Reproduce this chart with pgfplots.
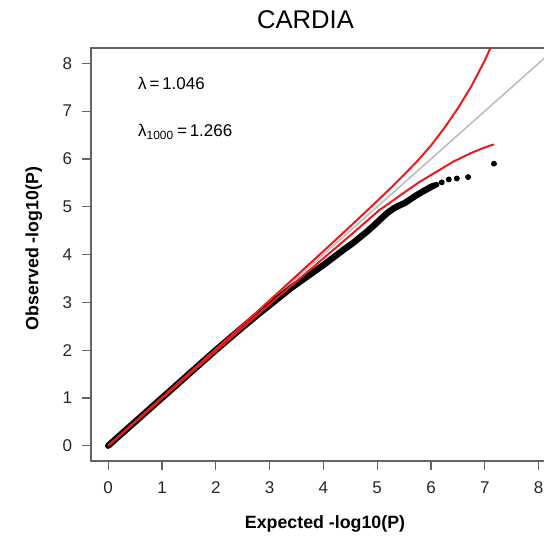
\documentclass[border=0pt]{standalone}
\usepackage{pgfplots}
\pgfplotsset{compat=1.18}
\usepackage{fontspec}
\setmainfont{Liberation Sans}
\definecolor{bandred}{RGB}{232,28,28}
\definecolor{diaggray}{RGB}{190,190,190}
\definecolor{framegray}{RGB}{100,100,100}

\pgfplotstableread{
x y
0 0
0.5 0.5
1 1
1.5 1.5
2 2
2.5 2.48
2.8 2.76
3.0 2.94
3.2 3.12
3.4 3.30
3.6 3.46
3.8 3.62
4.0 3.78
4.2 3.95
4.4 4.12
4.55 4.24
4.7 4.38
4.8 4.47
4.95 4.62
5.1 4.78
5.2 4.88
5.3 4.96
5.4 5.02
5.5 5.07
5.61 5.15
5.73 5.24
5.85 5.32
5.98 5.40
6.05 5.44
}\obsdense

\pgfplotstableread{
x y
5.98 5.41
6.10 5.46
6.20 5.51
6.33 5.57
6.48 5.59
6.69 5.62
7.17 5.90
}\obstail

\pgfplotstableread{
x y
0 0
1 1.01
2 2.02
3 3.04
4 4.07
4.5 4.59
5 5.12
5.25 5.39
5.5 5.67
5.75 5.96
6 6.28
6.25 6.65
6.5 7.06
6.75 7.52
7.0 8.06
7.17 8.49
}\bandhi

\pgfplotstableread{
x y
0 0
1 0.99
2 1.98
3 2.96
3.5 3.44
4 3.92
4.5 4.4
5.04 4.93
5.17 5.03
5.48 5.28
5.79 5.52
6.10 5.73
6.41 5.94
6.72 6.11
6.91 6.20
7.10 6.28
7.17 6.30
}\bandlo

\begin{document}
\begin{tikzpicture}
\useasboundingbox (-45.5pt,-39.5pt) rectangle (226.5pt,230.5pt);
\begin{axis}[
  at={(0,0)}, anchor=south west, scale only axis,
  width=226.5pt, height=206.5pt,
  xmin=-0.32, xmax=8.1, ymin=-0.32, ymax=8.32,
  xtick={0,...,8}, ytick={0,...,8},
  axis line style={draw=none},
  tick align=outside, xtick pos=bottom, ytick pos=left,
  major tick length=4.3pt,
  tick style={framegray, line width=0.6pt},
  ticklabel style={font=\fontsize{8.5}{10}\selectfont, text=black!85, inner sep=0pt},
  xticklabel style={anchor=base, yshift=-12pt},
  yticklabel style={anchor=east, xshift=-5pt},
  /pgf/number format/assume math mode=true,
  clip mode=individual,
]
\draw[framegray, line width=0.7pt] (rel axis cs:1.02,1) -- (rel axis cs:0,1) -- (rel axis cs:0,0) -- (rel axis cs:1.02,0);

\addplot[diaggray, line width=0.8pt] coordinates {(0,0) (8.32,8.32)};
\addplot[black, line width=3.2pt, line cap=round, line join=round] table {\obsdense};
\addplot[only marks, mark=*, mark size=1.25pt, black] table {\obstail};
\addplot[bandred, line width=1pt] table {\bandhi};
\addplot[bandred, line width=1pt] table {\bandlo};

\node[anchor=west, inner sep=0pt, font=\fontsize{8.5}{10}\selectfont] at (axis cs:0.55,7.57) {λ\,=\,1.046};
\node[anchor=west, inner sep=0pt, font=\fontsize{8.5}{10}\selectfont] at (axis cs:0.55,6.57) {λ\textsubscript{1000}\,=\,1.266};

\node[font=\fontsize{12.8}{15}\selectfont, inner sep=0pt] at ([yshift=14pt]rel axis cs:0.4735,1) {CARDIA};
\node[anchor=base, font=\fontsize{8.9}{10}\selectfont\bfseries, inner sep=0pt] at ([yshift=-33.5pt]rel axis cs:0.5166,0) {Expected -log10(P)};
\node[anchor=base, rotate=90, font=\fontsize{8.9}{10}\selectfont\bfseries, inner sep=0pt] at ([xshift=-26.3pt]rel axis cs:0,0.5145) {Observed -log10(P)};
\end{axis}
\end{tikzpicture}
\end{document}
